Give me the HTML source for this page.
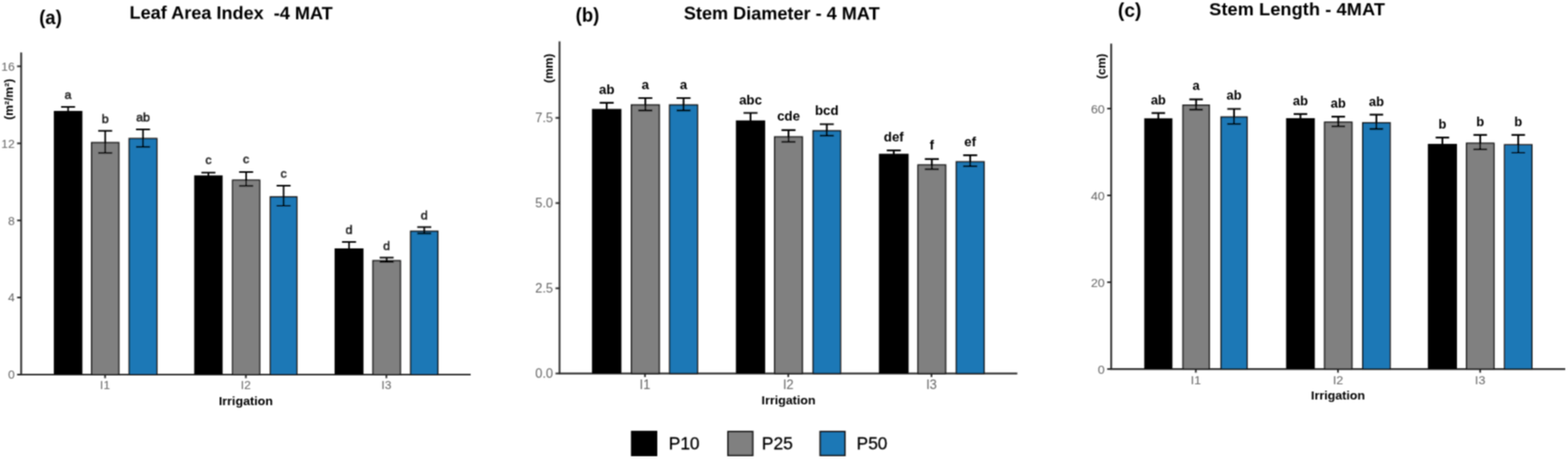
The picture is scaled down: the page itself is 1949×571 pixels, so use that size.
<!DOCTYPE html>
<html><head><meta charset="utf-8"><title>Figure</title>
<style>
html,body{margin:0;padding:0;background:#fff;overflow:hidden;}
svg{display:block;}
text{font-family:'Liberation Sans', Arial, sans-serif;}
.tk{font-size:15px;fill:#666;}
.la{font-size:15.5px;fill:#111;stroke:#111;stroke-width:0.45px;}
.lb{font-size:16.5px;font-weight:bold;fill:#000;}
.lc{font-size:16px;font-weight:bold;fill:#000;}
.pl{font-size:23px;font-weight:bold;fill:#000;}
.tt{font-size:22.5px;font-weight:bold;fill:#000;}
.yt{font-size:15px;font-weight:bold;fill:#000;}
.xt{font-size:15.5px;font-weight:bold;fill:#000;}
.lg{font-size:21.5px;fill:#000;stroke:#000;stroke-width:0.35px;}
</style></head>
<body>
<svg width="1949" height="571" viewBox="0 0 1949 571">
<defs><filter id="bl" x="0" y="0" width="1" height="1"><feConvolveMatrix order="3" kernelMatrix="1 2 1 2 4 2 1 2 1" divisor="16" edgeMode="none"/></filter></defs>
<rect width="1949" height="571" fill="#fff"/>
<g filter="url(#bl)">
<line x1="26.3" y1="65.3" x2="26.3" y2="466.5" stroke="#2b2b2b" stroke-width="2.2"/>
<line x1="25.3" y1="466" x2="585" y2="466" stroke="#2b2b2b" stroke-width="2.2"/>
<line x1="21.3" y1="466.0" x2="26.3" y2="466.0" stroke="#222" stroke-width="2"/>
<text x="18.3" y="471.355" text-anchor="end" class="tk" style="font-size:15px">0</text>
<line x1="21.3" y1="370.12" x2="26.3" y2="370.12" stroke="#222" stroke-width="2"/>
<text x="18.3" y="375.475" text-anchor="end" class="tk" style="font-size:15px">4</text>
<line x1="21.3" y1="274.24" x2="26.3" y2="274.24" stroke="#222" stroke-width="2"/>
<text x="18.3" y="279.595" text-anchor="end" class="tk" style="font-size:15px">8</text>
<line x1="21.3" y1="178.36" x2="26.3" y2="178.36" stroke="#222" stroke-width="2"/>
<text x="18.3" y="183.715" text-anchor="end" class="tk" style="font-size:15px">12</text>
<line x1="21.3" y1="82.48000000000002" x2="26.3" y2="82.48000000000002" stroke="#222" stroke-width="2"/>
<text x="18.3" y="87.83500000000002" text-anchor="end" class="tk" style="font-size:15px">16</text>
<line x1="130.6" y1="466" x2="130.6" y2="470.5" stroke="#222" stroke-width="2"/>
<text x="130.6" y="484.2" text-anchor="middle" class="tk" style="font-size:15px">I1</text>
<line x1="305.6" y1="466" x2="305.6" y2="470.5" stroke="#222" stroke-width="2"/>
<text x="305.6" y="484.2" text-anchor="middle" class="tk" style="font-size:15px">I2</text>
<line x1="480.3" y1="466" x2="480.3" y2="470.5" stroke="#222" stroke-width="2"/>
<text x="480.3" y="484.2" text-anchor="middle" class="tk" style="font-size:15px">I3</text>
<rect x="66.9" y="138.0" width="35.5" height="328.0" fill="#000000"/>
<path d="M75.95 132.9H93.35000000000001M84.65 132.9V143.1M75.95 143.1H93.35000000000001" stroke="#000" stroke-width="2" fill="none"/>
<text x="84.65" y="122.8" text-anchor="middle" class="la">a</text>
<rect x="113.85" y="177.45" width="33.8" height="288.54999999999995" fill="#808080" stroke="#1a1a1a" stroke-width="1.7"/>
<path d="M122.05 162.7H139.45M130.75 162.7V190.2M122.05 190.2H139.45" stroke="#000" stroke-width="2" fill="none"/>
<text x="130.75" y="152.6" text-anchor="middle" class="la">b</text>
<rect x="160.54999999999998" y="172.35" width="34.40000000000002" height="293.65" fill="#1a78b6" stroke="#1a1a1a" stroke-width="1.7"/>
<path d="M169.05 161.0H186.45M177.75 161.0V182.7M169.05 182.7H186.45" stroke="#000" stroke-width="2" fill="none"/>
<text x="177.75" y="150.8" text-anchor="middle" class="la">ab</text>
<rect x="241.4" y="218.2" width="35.29999999999998" height="247.8" fill="#000000"/>
<path d="M250.35000000000002 214.7H267.75M259.05 214.7V221.7M250.35000000000002 221.7H267.75" stroke="#000" stroke-width="2" fill="none"/>
<text x="259.05" y="204.1" text-anchor="middle" class="la">c</text>
<rect x="289.15000000000003" y="224.15" width="33.60000000000001" height="241.85" fill="#808080" stroke="#1a1a1a" stroke-width="1.7"/>
<path d="M297.25000000000006 214.0H314.65000000000003M305.95000000000005 214.0V231.3M297.25000000000006 231.3H314.65000000000003" stroke="#000" stroke-width="2" fill="none"/>
<text x="305.95000000000005" y="203.2" text-anchor="middle" class="la">c</text>
<rect x="336.05" y="244.95" width="32.90000000000002" height="221.05" fill="#1a78b6" stroke="#1a1a1a" stroke-width="1.7"/>
<path d="M343.8 231.0H361.2M352.5 231.0V256.0M343.8 256.0H361.2" stroke="#000" stroke-width="2" fill="none"/>
<text x="352.5" y="220.5" text-anchor="middle" class="la">c</text>
<rect x="415.9" y="309.0" width="35.900000000000034" height="157.0" fill="#000000"/>
<path d="M425.15000000000003 301.0H442.55M433.85 301.0V317.0M425.15000000000003 317.0H442.55" stroke="#000" stroke-width="2" fill="none"/>
<text x="433.85" y="291.0" text-anchor="middle" class="la">d</text>
<rect x="463.55" y="324.35" width="34.10000000000001" height="141.65" fill="#808080" stroke="#1a1a1a" stroke-width="1.7"/>
<path d="M471.90000000000003 320.4H489.3M480.6 320.4V326.0M471.90000000000003 326.0H489.3" stroke="#000" stroke-width="2" fill="none"/>
<text x="480.6" y="311.0" text-anchor="middle" class="la">d</text>
<rect x="510.45000000000005" y="287.65000000000003" width="33.8" height="178.35" fill="#1a78b6" stroke="#1a1a1a" stroke-width="1.7"/>
<path d="M518.65 282.6H536.0500000000001M527.35 282.6V290.5M518.65 290.5H536.0500000000001" stroke="#000" stroke-width="2" fill="none"/>
<text x="527.35" y="273.1" text-anchor="middle" class="la">d</text>
<line x1="695.5" y1="51.4" x2="695.5" y2="465.1" stroke="#2b2b2b" stroke-width="2.2"/>
<line x1="694.5" y1="464.6" x2="1264.5" y2="464.6" stroke="#2b2b2b" stroke-width="2.2"/>
<line x1="690.5" y1="464.6" x2="695.5" y2="464.6" stroke="#222" stroke-width="2"/>
<text x="687.5" y="470.312" text-anchor="end" class="tk" style="font-size:16px">0.0</text>
<line x1="690.5" y1="358.6" x2="695.5" y2="358.6" stroke="#222" stroke-width="2"/>
<text x="687.5" y="364.312" text-anchor="end" class="tk" style="font-size:16px">2.5</text>
<line x1="690.5" y1="252.60000000000002" x2="695.5" y2="252.60000000000002" stroke="#222" stroke-width="2"/>
<text x="687.5" y="258.312" text-anchor="end" class="tk" style="font-size:16px">5.0</text>
<line x1="690.5" y1="146.60000000000002" x2="695.5" y2="146.60000000000002" stroke="#222" stroke-width="2"/>
<text x="687.5" y="152.312" text-anchor="end" class="tk" style="font-size:16px">7.5</text>
<line x1="801.7" y1="464.6" x2="801.7" y2="469.1" stroke="#222" stroke-width="2"/>
<text x="801.7" y="484.0" text-anchor="middle" class="tk" style="font-size:16px">I1</text>
<line x1="979.8" y1="464.6" x2="979.8" y2="469.1" stroke="#222" stroke-width="2"/>
<text x="979.8" y="484.0" text-anchor="middle" class="tk" style="font-size:16px">I2</text>
<line x1="1157.8" y1="464.6" x2="1157.8" y2="469.1" stroke="#222" stroke-width="2"/>
<text x="1157.8" y="484.0" text-anchor="middle" class="tk" style="font-size:16px">I3</text>
<rect x="735.8" y="135.5" width="36.60000000000002" height="329.1" fill="#000000"/>
<path d="M745.3999999999999 127.8H762.8M754.0999999999999 127.8V143.2M745.3999999999999 143.2H762.8" stroke="#000" stroke-width="2.2" fill="none"/>
<text x="754.0999999999999" y="116.6" text-anchor="middle" class="lb">ab</text>
<rect x="784.85" y="130.54999999999998" width="34.59999999999995" height="334.05" fill="#808080" stroke="#1a1a1a" stroke-width="1.7"/>
<path d="M793.4499999999999 122.0H810.85M802.15 122.0V137.4M793.4499999999999 137.4H810.85" stroke="#000" stroke-width="2.2" fill="none"/>
<text x="802.15" y="111.0" text-anchor="middle" class="lb">a</text>
<rect x="832.35" y="130.54999999999998" width="34.59999999999995" height="334.05" fill="#1a78b6" stroke="#1a1a1a" stroke-width="1.7"/>
<path d="M840.9499999999999 122.0H858.35M849.65 122.0V137.4M840.9499999999999 137.4H858.35" stroke="#000" stroke-width="2.2" fill="none"/>
<text x="849.65" y="111.0" text-anchor="middle" class="lb">a</text>
<rect x="914.7" y="149.8" width="36.39999999999998" height="314.8" fill="#000000"/>
<path d="M924.2 140.5H941.6000000000001M932.9000000000001 140.5V159.10000000000002M924.2 159.10000000000002H941.6000000000001" stroke="#000" stroke-width="2.2" fill="none"/>
<text x="932.9000000000001" y="129.5" text-anchor="middle" class="lb">abc</text>
<rect x="962.85" y="170.35" width="34.50000000000004" height="294.25" fill="#808080" stroke="#1a1a1a" stroke-width="1.7"/>
<path d="M971.4 161.8H988.8000000000001M980.1 161.8V176.5M971.4 176.5H988.8000000000001" stroke="#000" stroke-width="2.2" fill="none"/>
<text x="980.1" y="150.1" text-anchor="middle" class="lb">cde</text>
<rect x="1010.65" y="162.65" width="34.09999999999995" height="301.95" fill="#1a78b6" stroke="#1a1a1a" stroke-width="1.7"/>
<path d="M1018.9999999999998 154.5H1036.3999999999999M1027.6999999999998 154.5V168.8M1018.9999999999998 168.8H1036.3999999999999" stroke="#000" stroke-width="2.2" fill="none"/>
<text x="1027.6999999999998" y="142.6" text-anchor="middle" class="lb">bcd</text>
<rect x="1092.5" y="191.3" width="36.90000000000009" height="273.3" fill="#000000"/>
<path d="M1102.25 187.1H1119.65M1110.95 187.1V195.50000000000003M1102.25 195.50000000000003H1119.65" stroke="#000" stroke-width="2.2" fill="none"/>
<text x="1110.95" y="175.6" text-anchor="middle" class="lb">def</text>
<rect x="1141.05" y="205.25" width="34.399999999999906" height="259.35" fill="#808080" stroke="#1a1a1a" stroke-width="1.7"/>
<path d="M1149.55 197.9H1166.95M1158.25 197.9V210.5M1149.55 210.5H1166.95" stroke="#000" stroke-width="2.2" fill="none"/>
<text x="1158.25" y="186.2" text-anchor="middle" class="lb">f</text>
<rect x="1188.6499999999999" y="201.35" width="34.59999999999995" height="263.25" fill="#1a78b6" stroke="#1a1a1a" stroke-width="1.7"/>
<path d="M1197.2499999999998 193.2H1214.6499999999999M1205.9499999999998 193.2V206.8M1197.2499999999998 206.8H1214.6499999999999" stroke="#000" stroke-width="2.2" fill="none"/>
<text x="1205.9499999999998" y="182.0" text-anchor="middle" class="lb">ef</text>
<line x1="1381.2" y1="54.3" x2="1381.2" y2="459.6" stroke="#2b2b2b" stroke-width="2.2"/>
<line x1="1380.2" y1="459.1" x2="1945.7" y2="459.1" stroke="#2b2b2b" stroke-width="2.2"/>
<line x1="1376.2" y1="459.1" x2="1381.2" y2="459.1" stroke="#222" stroke-width="2"/>
<text x="1373.2" y="464.6335" text-anchor="end" class="tk" style="font-size:15.5px">0</text>
<line x1="1376.2" y1="351.1" x2="1381.2" y2="351.1" stroke="#222" stroke-width="2"/>
<text x="1373.2" y="356.6335" text-anchor="end" class="tk" style="font-size:15.5px">20</text>
<line x1="1376.2" y1="243.10000000000002" x2="1381.2" y2="243.10000000000002" stroke="#222" stroke-width="2"/>
<text x="1373.2" y="248.63350000000003" text-anchor="end" class="tk" style="font-size:15.5px">40</text>
<line x1="1376.2" y1="135.10000000000002" x2="1381.2" y2="135.10000000000002" stroke="#222" stroke-width="2"/>
<text x="1373.2" y="140.63350000000003" text-anchor="end" class="tk" style="font-size:15.5px">60</text>
<line x1="1486.4" y1="459.1" x2="1486.4" y2="463.6" stroke="#222" stroke-width="2"/>
<text x="1486.4" y="477.70000000000005" text-anchor="middle" class="tk" style="font-size:15.5px">I1</text>
<line x1="1663.1" y1="459.1" x2="1663.1" y2="463.6" stroke="#222" stroke-width="2"/>
<text x="1663.1" y="477.70000000000005" text-anchor="middle" class="tk" style="font-size:15.5px">I2</text>
<line x1="1839.8" y1="459.1" x2="1839.8" y2="463.6" stroke="#222" stroke-width="2"/>
<text x="1839.8" y="477.70000000000005" text-anchor="middle" class="tk" style="font-size:15.5px">I3</text>
<rect x="1422.3" y="147.2" width="35.0" height="311.90000000000003" fill="#000000"/>
<path d="M1431.3999999999999 140.7H1448.2M1439.8 140.7V153.7M1431.3999999999999 153.7H1448.2" stroke="#000" stroke-width="2.2" fill="none"/>
<text x="1439.8" y="130.0" text-anchor="middle" class="lc">ab</text>
<rect x="1470.4499999999998" y="130.85" width="32.60000000000018" height="328.25" fill="#808080" stroke="#1a1a1a" stroke-width="1.7"/>
<path d="M1478.35 123.6H1495.15M1486.75 123.6V136.3M1478.35 136.3H1495.15" stroke="#000" stroke-width="2.2" fill="none"/>
<text x="1486.75" y="112.1" text-anchor="middle" class="lc">a</text>
<rect x="1517.75" y="145.54999999999998" width="32.3" height="313.55" fill="#1a78b6" stroke="#1a1a1a" stroke-width="1.7"/>
<path d="M1525.5 135.5H1542.3000000000002M1533.9 135.5V154.2M1525.5 154.2H1542.3000000000002" stroke="#000" stroke-width="2.2" fill="none"/>
<text x="1533.9" y="124.3" text-anchor="middle" class="lc">ab</text>
<rect x="1598.6" y="147.0" width="35.700000000000045" height="312.1" fill="#000000"/>
<path d="M1608.0499999999997 141.8H1624.85M1616.4499999999998 141.8V152.2M1608.0499999999997 152.2H1624.85" stroke="#000" stroke-width="2.2" fill="none"/>
<text x="1616.4499999999998" y="130.6" text-anchor="middle" class="lc">ab</text>
<rect x="1646.4499999999998" y="152.04999999999998" width="34.00000000000004" height="307.05" fill="#808080" stroke="#1a1a1a" stroke-width="1.7"/>
<path d="M1655.0499999999997 145.1H1671.85M1663.4499999999998 145.1V157.2M1655.0499999999997 157.2H1671.85" stroke="#000" stroke-width="2.2" fill="none"/>
<text x="1663.4499999999998" y="134.3" text-anchor="middle" class="lc">ab</text>
<rect x="1693.85" y="152.75" width="34.00000000000004" height="306.35" fill="#1a78b6" stroke="#1a1a1a" stroke-width="1.7"/>
<path d="M1702.4499999999998 142.7H1719.25M1710.85 142.7V160.3M1702.4499999999998 160.3H1719.25" stroke="#000" stroke-width="2.2" fill="none"/>
<text x="1710.85" y="131.5" text-anchor="middle" class="lc">ab</text>
<rect x="1774.8" y="179.0" width="36.200000000000045" height="280.1" fill="#000000"/>
<path d="M1784.5 171.1H1801.3000000000002M1792.9 171.1V186.9M1784.5 186.9H1801.3000000000002" stroke="#000" stroke-width="2.2" fill="none"/>
<text x="1792.9" y="159.7" text-anchor="middle" class="lc">b</text>
<rect x="1822.85" y="178.25" width="34.09999999999995" height="280.85" fill="#808080" stroke="#1a1a1a" stroke-width="1.7"/>
<path d="M1831.5 167.8H1848.3000000000002M1839.9 167.8V185.8M1831.5 185.8H1848.3000000000002" stroke="#000" stroke-width="2.2" fill="none"/>
<text x="1839.9" y="156.6" text-anchor="middle" class="lc">b</text>
<rect x="1870.1499999999999" y="180.15" width="34.00000000000004" height="278.95" fill="#1a78b6" stroke="#1a1a1a" stroke-width="1.7"/>
<path d="M1878.75 167.8H1895.5500000000002M1887.15 167.8V190.0M1878.75 190.0H1895.5500000000002" stroke="#000" stroke-width="2.2" fill="none"/>
<text x="1887.15" y="156.6" text-anchor="middle" class="lc">b</text>
<text x="48.7" y="30.1" class="pl">(a)</text>
<text x="161" y="23.2" class="tt" style="white-space:pre" transform="rotate(0.23 161 23.2)">Leaf Area Index  -4 MAT</text>
<text x="715.5" y="26.7" class="pl">(b)</text>
<text x="850" y="24" class="tt" transform="rotate(0.1 850 24)">Stem Diameter - 4 MAT</text>
<text x="1389.5" y="21.1" class="pl" style="font-size:24px">(c)</text>
<text x="1503" y="18.6" class="tt" style="letter-spacing:0.15px">Stem Length - 4MAT</text>
<text transform="translate(15.8,123.5) rotate(-90)" text-anchor="middle" class="yt">(m²/m²)</text>
<text transform="translate(687,85) rotate(-90)" text-anchor="middle" class="yt">(mm)</text>
<text transform="translate(1374,82.5) rotate(-90)" text-anchor="middle" class="yt">(cm)</text>
<text x="305.6" y="503.5" text-anchor="middle" class="xt">Irrigation</text>
<text x="980.2" y="503.2" text-anchor="middle" class="xt">Irrigation</text>
<text x="1663.2" y="497.3" text-anchor="middle" class="xt">Irrigation</text>
<rect x="784.3" y="535.9" width="32.7" height="31.7" fill="#000000"/>
<text x="831.3000000000001" y="558.5" class="lg">P10</text>
<rect x="904.9" y="536.9" width="30.7" height="29.7" fill="#808080" stroke="#1a1a1a" stroke-width="2"/>
<text x="947.1" y="558.5" class="lg">P25</text>
<rect x="1019.5" y="536.9" width="30.7" height="29.7" fill="#1a78b6" stroke="#1a1a1a" stroke-width="2"/>
<text x="1064.8" y="558.5" class="lg">P50</text>
</g>
</svg>
</body></html>
